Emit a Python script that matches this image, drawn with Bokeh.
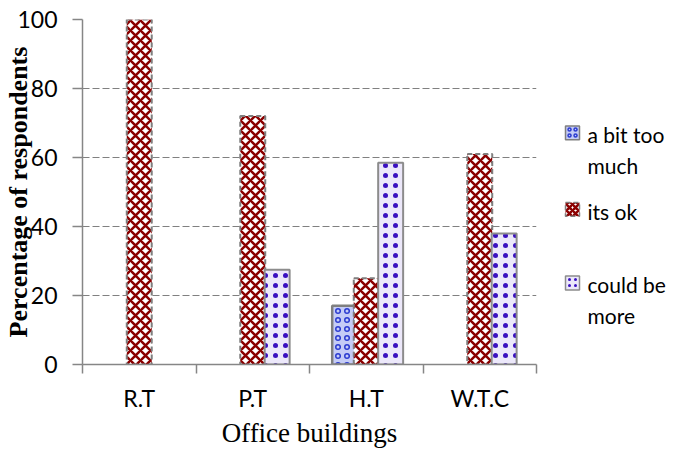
from bokeh.plotting import figure
from bokeh.models import Range1d, FixedTicker
from bokeh.layouts import row
from bokeh.embed import file_html
from bokeh.resources import INLINE
from bokeh.core.properties import value

# ---- data ----
categories = ["R.T", "P.T", "H.T", "W.T.C"]
series_names = ["a bit too much", "its ok", "could be more"]
a_bit_too_much = [0, 0, 17, 0]
its_ok = [100, 72, 25, 61]
could_be_more = [0, 27.5, 58.5, 38]
y_ticks = [0, 20, 40, 60, 80, 100]
legend_lines = [["a bit too", "much"], ["its ok"], ["could be", "more"]]

series_values = [a_bit_too_much, its_ok, could_be_more]
offsets = [-0.19, 0.0, 0.215]
bar_w = 0.22
styles = [
    dict(fill_color="#C5CCF6", line_color="#7F7F7F", line_width=2.5,
         hatch_pattern="ring", hatch_color="#2B3BD0", hatch_scale=9, hatch_weight=1.5),
    dict(fill_color="white", line_color="#7F7F7F", line_width=2, line_dash="5 3",
         hatch_pattern="diagonal_cross", hatch_color="#8B0000", hatch_scale=10, hatch_weight=2.5),
    dict(fill_color="#ECE8FA", line_color="#8C8C8C", line_width=2,
         hatch_pattern="dot", hatch_color="#3A10C0", hatch_scale=10, hatch_weight=5),
]

W, H = 548, 450
TOP, BOTTOM = 19, 84
p = figure(width=W, height=H, x_range=Range1d(0, len(categories)), y_range=Range1d(0, 100),
           output_backend="svg", toolbar_location=None,
           min_border_left=82, min_border_top=TOP, min_border_right=12, min_border_bottom=BOTTOM)
p.outline_line_color = None
p.background_fill_color = "white"

for vals, off, st in zip(series_values, offsets, styles):
    xs = [i + 0.5 + off for i, v in enumerate(vals) if v > 0]
    tops = [v for v in vals if v > 0]
    p.vbar(x=xs, top=tops, bottom=0, width=bar_w, **st)

# y axis
p.yaxis.ticker = FixedTicker(ticks=y_ticks)
p.yaxis.major_tick_out = 10
p.yaxis.major_tick_in = 0
p.yaxis.minor_tick_out = 0
p.yaxis.minor_tick_in = 0
p.yaxis.axis_line_color = "#868686"
p.yaxis.axis_line_width = 1.5
p.yaxis.major_tick_line_color = "#868686"
p.yaxis.major_tick_line_width = 1.5
p.yaxis.major_label_text_font = "Lato"
p.yaxis.major_label_text_font_size = "23px"
p.yaxis.major_label_text_color = "black"
p.yaxis.major_label_standoff = 15
p.yaxis.axis_label = "Percentage of respondents"
p.yaxis.axis_label_text_font = "Liberation Serif"
p.yaxis.axis_label_text_font_size = "26px"
p.yaxis.axis_label_text_font_style = "bold"
p.yaxis.axis_label_text_color = "black"
p.yaxis.axis_label_standoff = -19

# x axis
centers = [i + 0.5 for i in range(len(categories))]
p.xaxis.ticker = FixedTicker(ticks=centers, minor_ticks=list(range(len(categories) + 1)))
p.xaxis.major_label_overrides = {c: lab for c, lab in zip(centers, categories)}
p.xaxis.major_tick_out = 0
p.xaxis.major_tick_in = 0
p.xaxis.minor_tick_out = 9
p.xaxis.minor_tick_in = 0
p.xaxis.minor_tick_line_color = "#868686"
p.xaxis.minor_tick_line_width = 1.5
p.xaxis.axis_line_color = "#868686"
p.xaxis.axis_line_width = 1.5
p.xaxis.major_label_text_font = "Lato"
p.xaxis.major_label_text_font_size = "23px"
p.xaxis.major_label_text_color = "black"
p.xaxis.major_label_standoff = 10
p.xaxis.axis_label = "Office buildings"
p.xaxis.axis_label_text_font = "Liberation Serif"
p.xaxis.axis_label_text_font_size = "27px"
p.xaxis.axis_label_text_font_style = "normal"
p.xaxis.axis_label_text_color = "black"
p.xaxis.axis_label_standoff = 3

# grid
p.xgrid.visible = False
p.ygrid.ticker = FixedTicker(ticks=[t for t in y_ticks if t > 0])
p.ygrid.grid_line_color = "#808080"
p.ygrid.grid_line_dash = "7 3"
p.ygrid.grid_line_width = 1

# ---- legend panel (data coords = page pixels) ----
LW = 680 - W
lg = figure(width=LW, height=H, x_range=Range1d(0, LW), y_range=Range1d(H - BOTTOM, TOP),
            output_backend="svg", toolbar_location=None,
            x_axis_location=None, y_axis_location=None,
            min_border_left=0, min_border_right=0,
            min_border_top=TOP, min_border_bottom=BOTTOM)
lg.outline_line_color = None
lg.grid.visible = False

item_y = [133, 210, 284]
line_gap = 31
for lines, y, st in zip(legend_lines, item_y, styles):
    lg.rect(x=[24], y=[y], width=14, height=14,
            **{**st, "line_width": 1.5, "hatch_scale": 6})
    ys = [y + 2 + k * line_gap for k in range(len(lines))]
    lg.text(x=[39] * len(lines), y=ys, text=lines, text_font=value("Lato"),
            text_font_size="21px", text_color="black", text_baseline="middle",
            text_align="left")

layout = row(p, lg)
open("out.html", "w").write(file_html(layout, INLINE))
